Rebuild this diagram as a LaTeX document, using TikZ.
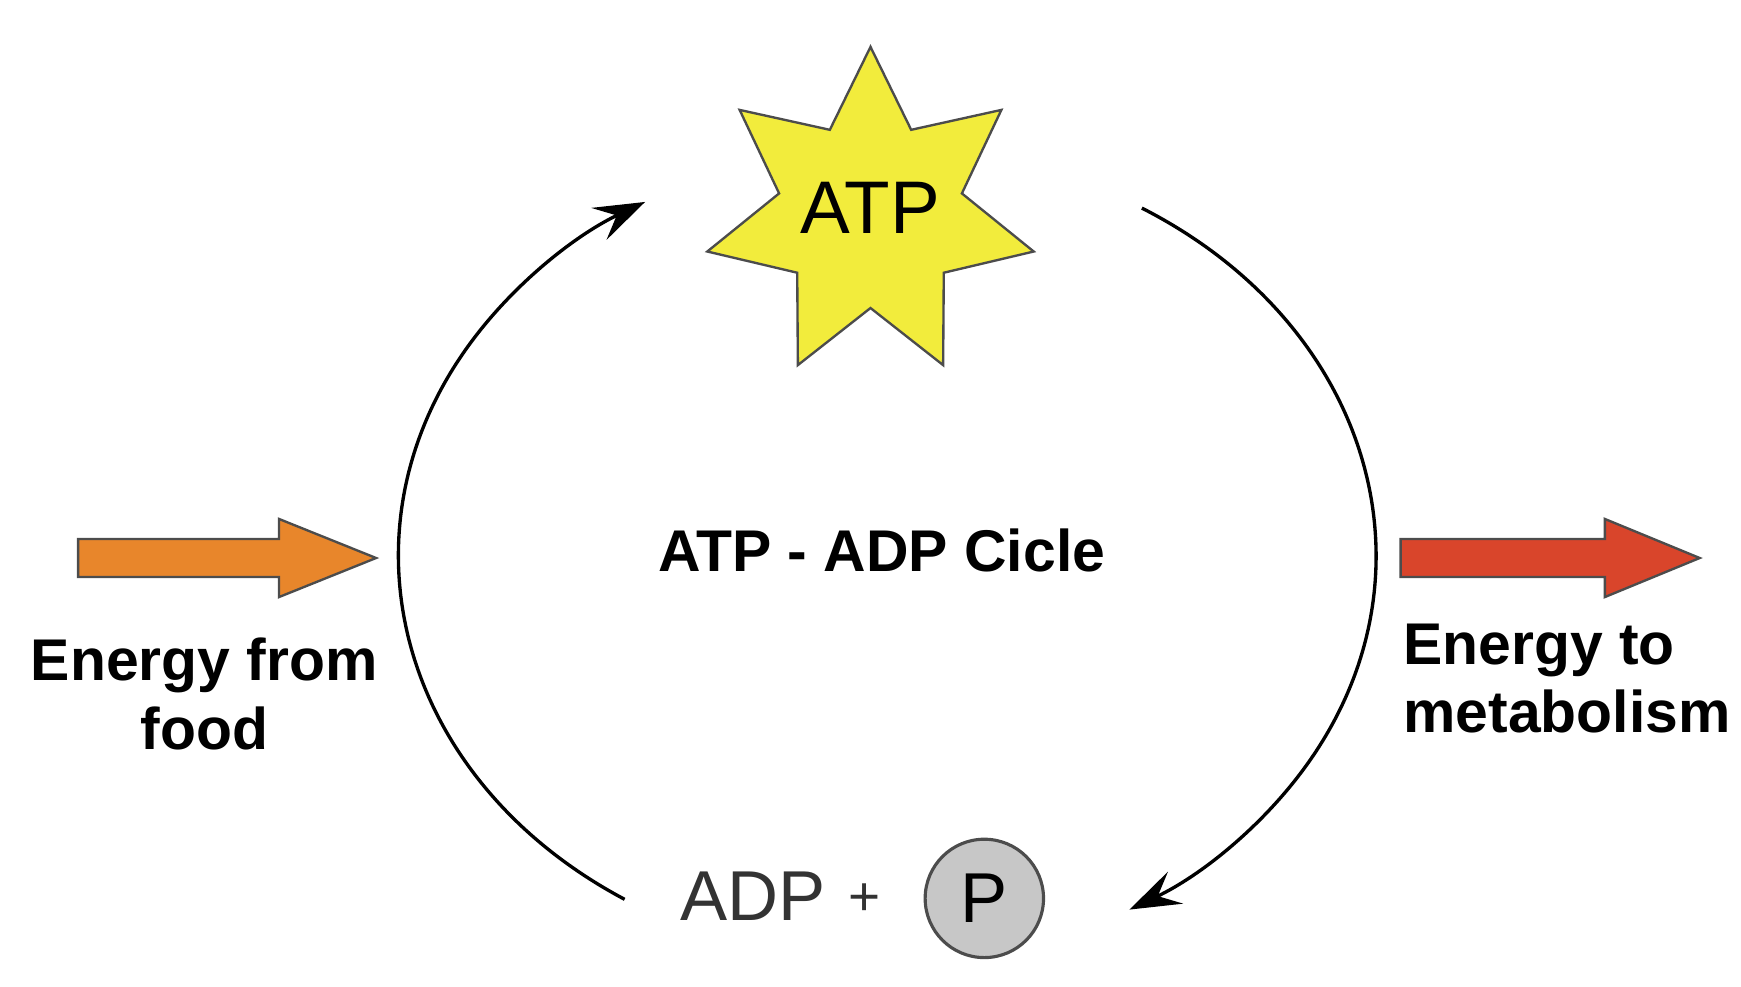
\documentclass[tikz,border=0pt]{standalone}
\usepackage{fontspec}
\setmainfont{Liberation Sans}
\usetikzlibrary{arrows.meta}
\definecolor{orng}{HTML}{E8862B}
\definecolor{rd}{HTML}{D9452B}
\definecolor{yel}{HTML}{F2EC3C}
\begin{document}
\begin{tikzpicture}[x=0.01cm,y=0.01cm,
  lbl/.style={font=\fontsize{15}{17.5}\selectfont\bfseries,align=center},
  cyc/.style={line width=0.85pt,-{Stealth[length=13pt,width=9pt,inset=5pt]}},
  fat/.style={draw=black!70,line width=0.6pt}]
\useasboundingbox (0,0) rectangle (1560,884);
% star
\path[fat,fill=yel] (780,842)
 \foreach \i in {1,...,13}{ -- ({780+(mod(\i,2)==1 ? 84 : 150)*cos(90-\i*360/14)},{692+(mod(\i,2)==1 ? 84 : 150)*sin(90-\i*360/14)}) } -- cycle;
\node (atp) at (780,698) {\fontsize{19}{22}\selectfont ATP};
% cycle arcs
\coordinate (bl) at ({795+438*cos(237.5)},{386+365*sin(237.5)});
\coordinate (br) at ({795+438*cos(58.6)},{386+365*sin(58.6)});
\draw[cyc] (bl) arc[start angle=237.5,end angle=119.7,x radius=438,y radius=365];
\draw[cyc] (br) arc[start angle=58.6,end angle=-60.3,x radius=438,y radius=365];
\node (title) at (790,391) {\fontsize{15}{17}\selectfont\bfseries ATP - ADP Cicle};
% ADP + P
\node[text=black!80] (adp) at (675,81) {\fontsize{18}{20}\selectfont ADP};
\node[text=black!80] (plus) at (775,78) {\fontsize{14}{16}\selectfont +};
\node[circle,fill=black!22,draw=black!70,line width=0.8pt,minimum size=1.06cm,inner sep=0] (p) at (882,79) {\fontsize{18}{20}\selectfont P};
% big arrows
\path[fat,fill=orng] (70,367) -- (250,367) -- (250,349) -- (337,384) -- (250,419) -- (250,401) -- (70,401) -- cycle;
\path[fat,fill=rd] (1255,367) -- (1438,367) -- (1438,349) -- (1523,384) -- (1438,419) -- (1438,401) -- (1255,401) -- cycle;
\node[lbl] (ef) at (183,262) {Energy from\\food};
\node[lbl,align=left,anchor=west] (em) at (1245,276) {Energy to\\metabolism};
\end{tikzpicture}
\end{document}
